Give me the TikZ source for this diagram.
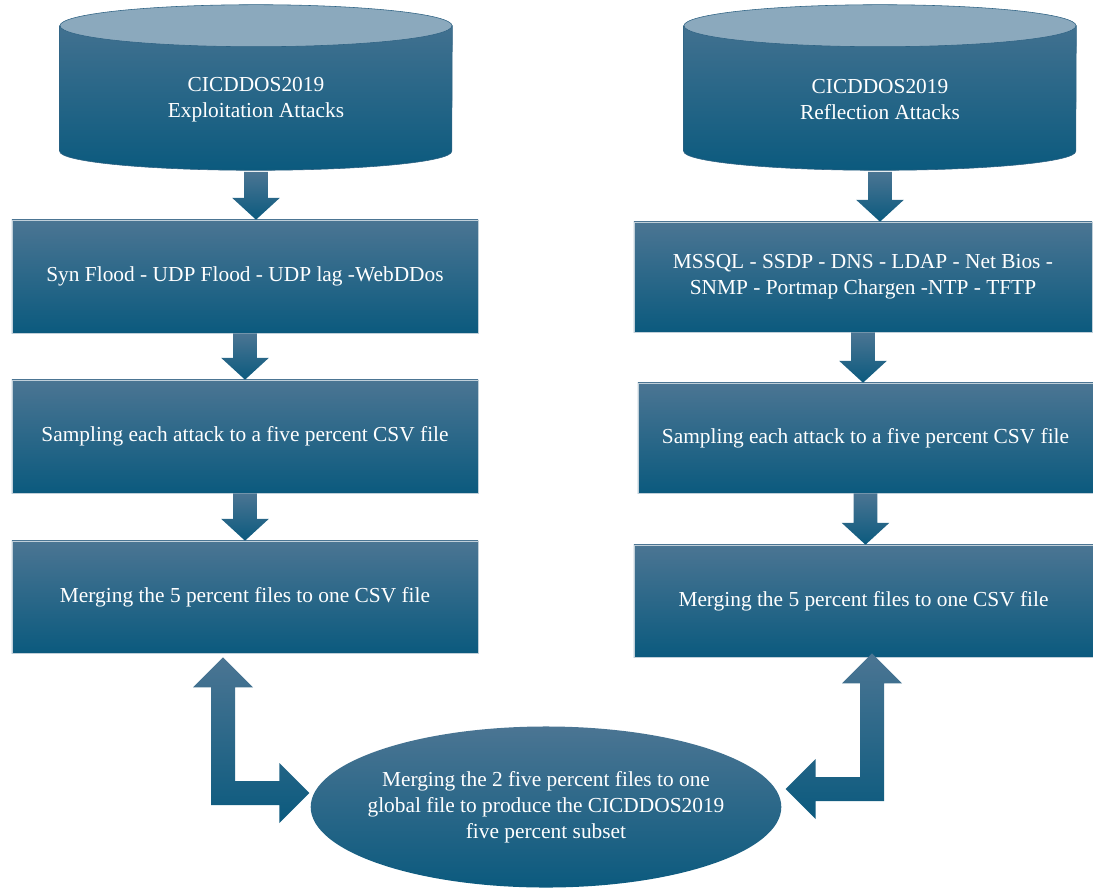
\documentclass[tikz,border=0pt]{standalone}
\usepackage{fontspec}
\setmainfont{Liberation Serif}
\usetikzlibrary{calc,shapes.geometric,backgrounds}
\definecolor{tealtop}{HTML}{4B7593}
\definecolor{tealbot}{HTML}{0B5A7E}
\definecolor{drumtop}{HTML}{8BA9BD}
\definecolor{drumline}{HTML}{2E6283}

% straight block arrow from one box down to the next
\newcommand{\blockdown}[2]{%
  \shade[flowfill] let \p1=(#1.south), \p2=(#2.north) in
    (\x1-8.5pt,\y1) -- (\x1+8.5pt,\y1) -- (\x1+8.5pt,\y2+15.6pt)
    -- (\x1+17pt,\y2+15.6pt) -- (\x1,\y2) -- (\x1-17pt,\y2+15.6pt)
    -- (\x1-8.5pt,\y2+15.6pt) -- cycle;}
% bent two-headed block arrow: #1 upper tip, #2 side tip, #3 side (1 right, -1 left)
\newcommand{\blockbent}[3]{%
  \shade[flowfill] (#1) -- ++({30*(#3)},30) -- ++({-18*(#3)},0)
    -- ($(#1 |- #2)+({12*(#3)},-12)$) -- ($(#2)+({-30*(#3)},-12)$) -- ++(0,-18)
    -- (#2) -- ++({-30*(#3)},30) -- ++(0,-18)
    -- ($(#1 |- #2)+({-12*(#3)},12)$) -- ($(#1)+({-12*(#3)},30)$)
    -- ++({-18*(#3)},0) -- cycle;}

\begin{document}
\begin{tikzpicture}[
  x=0.025cm, y=-0.025cm,
  every node/.style={font=\fontsize{15.2}{18.5}\selectfont, text=white, align=center},
  dbbox/.style={minimum width=9.8cm, minimum height=3.6cm, inner sep=0pt},
  stepbox/.style={rectangle, top color=tealtop, bottom color=tealbot,
                  draw=tealtop!35!white, line width=0.4pt, inner sep=0pt,
                  minimum height=2.8cm},
  globnode/.style={ellipse, top color=tealtop, bottom color=tealbot,
                   inner xsep=-0.3cm, inner ysep=0pt,
                   minimum width=11.65cm, minimum height=4.025cm},
  flowfill/.style={top color=tealtop, bottom color=tealbot},
  drumfill/.style={top color=tealtop!85!tealbot, bottom color=tealbot, draw=drumline, thin},
]
  \useasboundingbox (0,0) rectangle (1093,890);

  % data sets
  \node[dbbox] (exDB) at (256,99.5) {CICDDOS2019\\Exploitation Attacks};
  \node[dbbox] (reDB) at (880,99.5) {CICDDOS2019\\Reflection Attacks};
  \begin{pgfonlayer}{background}
    \foreach \db in {exDB,reDB} {
      \shadedraw[drumfill] ($(\db.north west)+(0,-1.5)$) -- ($(\db.south west)+(0,-20.5)$)
        arc[start angle=180, end angle=360, x radius=4.9cm, y radius=0.475cm]
        -- ($(\db.north east)+(0,-1.5)$) -- cycle;
      \filldraw[fill=drumtop, draw=drumline, thin] ($(\db.north)+(0,-1.5)$)
        ellipse[x radius=4.9cm, y radius=0.525cm];
    }
  \end{pgfonlayer}

  % left column
  \node[stepbox, minimum width=11.65cm, minimum height=2.825cm] (lAttacks) at (245,276.5)
    {Syn Flood - UDP Flood - UDP lag -WebDDos};
  \node[stepbox, minimum width=11.65cm, minimum height=2.825cm] (lSample) at (245,436.5)
    {Sampling each attack to a five percent CSV file};
  \node[stepbox, minimum width=11.65cm] (lMerge) at (245,597)
    {Merging the 5 percent files to one CSV file};

  % right column
  \node[stepbox, minimum width=11.45cm, minimum height=2.75cm] (rAttacks) at (863,277)
    {MSSQL - SSDP - DNS - LDAP - Net Bios -\\SNMP - Portmap Chargen -NTP - TFTP};
  \node[stepbox, minimum width=11.375cm, minimum height=2.75cm] (rSample) at (865.5,438)
    {Sampling each attack to a five percent CSV file};
  \node[stepbox, minimum width=11.475cm] (rMerge) at (863.5,601)
    {Merging the 5 percent files to one CSV file};

  % global subset
  \node[globnode] (glob) at (546,807)
    {Merging the 2 five percent files to one\\global file to produce the CICDDOS2019\\five percent subset};

  % arrows
  \blockdown{exDB}{lAttacks}
  \blockdown{lAttacks}{lSample}
  \blockdown{lSample}{lMerge}
  \blockdown{reDB}{rAttacks}
  \blockdown{rAttacks}{rSample}
  \blockdown{rSample}{rMerge}

  \coordinate (lTip) at ($(lMerge.south)+(-22,4)$);
  \coordinate (rTip) at ($(rMerge.south)+(8.5,-4)$);
  \coordinate (lSide) at ($(glob.west)+(-1,-14)$);
  \coordinate (rSide) at ($(glob.east)+(4,-18)$);
  \blockbent{lTip}{lSide}{1}
  \blockbent{rTip}{rSide}{-1}
\end{tikzpicture}
\end{document}
